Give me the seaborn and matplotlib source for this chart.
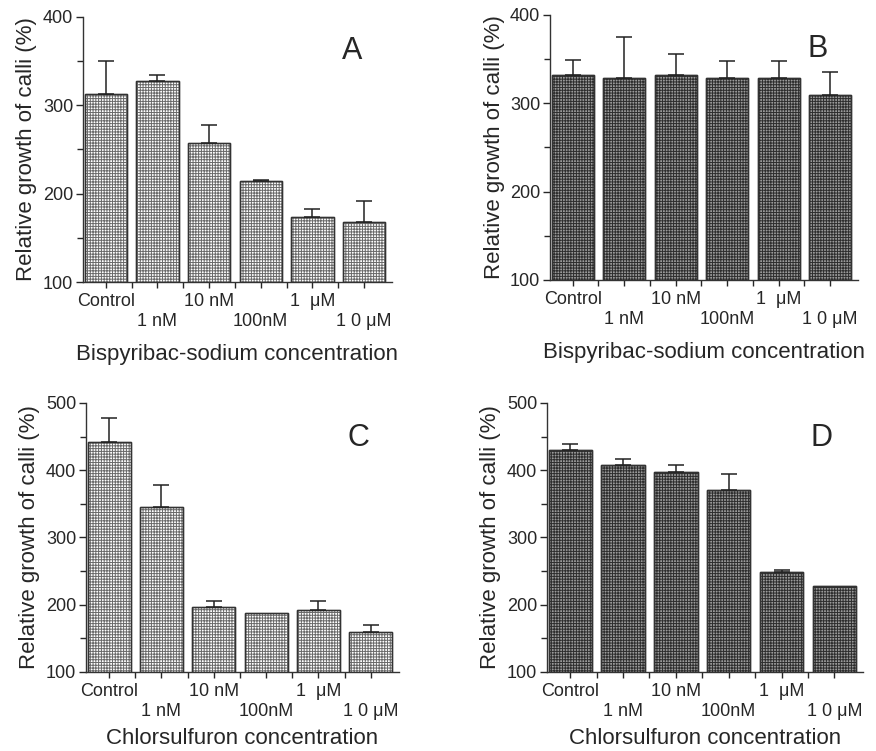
import numpy as np
import pandas as pd
import matplotlib
matplotlib.use('Agg')
import matplotlib.pyplot as plt
import seaborn as sns
from matplotlib.ticker import MultipleLocator, FixedLocator

# concentrations on the x axis
conc = ['Control', '1 nM', '10 nM', '100nM', '1  \u03bcM', '1 0 \u03bcM']

# A: bispyribac-sodium, light bars
bisp_a = [313, 328, 257, 214, 174, 168]
bisp_a_err = [37, 6, 21, 2, 9, 24]
# B: bispyribac-sodium, dark bars
bisp_b = [332, 329, 332, 329, 329, 309]
bisp_b_err = [17, 46, 24, 19, 19, 26]
# C: chlorsulfuron, light bars
chlor_c = [442, 345, 197, 187, 192, 159]
chlor_c_err = [36, 33, 9, 0, 14, 11]
# D: chlorsulfuron, dark bars
chlor_d = [430, 408, 397, 370, 248, 228]
chlor_d_err = [9, 9, 11, 24, 3, 0]

panel_letters = ['A', 'B', 'C', 'D']
xlabels = ['Bispyribac-sodium concentration', 'Bispyribac-sodium concentration',
           'Chlorsulfuron concentration', 'Chlorsulfuron concentration']
ylims = [(100, 400), (100, 400), (100, 500), (100, 500)]

sns.set_style('ticks')
plt.rcParams['font.family'] = ['Liberation Sans', 'DejaVu Sans']
plt.rcParams['hatch.linewidth'] = 0.7


def draw_panel(ax, vals, errs, letter, xlabel, ylim, dark, xpad):
    df = pd.DataFrame({'conc': conc, 'growth': vals})
    if dark:
        face, edge = '#9a9a9a', '#2e2e2e'
    else:
        face, edge = '#ffffff', '#6a6a6a'
    sns.barplot(data=df, x='conc', y='growth', order=conc, ax=ax, width=0.82,
                color=face, edgecolor=edge, linewidth=1.0,
                hatch='+' * 6, errorbar=None, saturation=1)
    # outline the bars in a darker line on top of the hatch
    for p in list(ax.patches):
        ax.add_patch(plt.Rectangle(p.get_xy(), p.get_width(), p.get_height(),
                                   fill=False, edgecolor='#333333', linewidth=1.0))
    x = np.arange(len(conc))
    errs = np.array(errs)
    keep = errs > 0
    ax.errorbar(x[keep], np.array(vals)[keep], yerr=[np.zeros(keep.sum()), errs[keep]],
                fmt='none', ecolor='#222222', elinewidth=1.1, capsize=6, capthick=1.1)

    ax.set_xlim(-0.44, 5.54)
    ax.set_ylim(*ylim)
    ax.yaxis.set_major_locator(MultipleLocator(100))
    ax.yaxis.set_minor_locator(MultipleLocator(50))
    ax.xaxis.set_major_locator(FixedLocator(x))
    ax.xaxis.set_minor_locator(FixedLocator(x[:-1] + 0.5))
    # staggered labels: every second one drops to a second row
    ax.set_xticklabels([c if i % 2 == 0 else '\n' + c for i, c in enumerate(conc)],
                       fontsize=13)
    ax.tick_params(axis='y', which='major', length=5, width=1, labelsize=13, pad=2)
    ax.tick_params(axis='y', which='minor', length=4, width=1)
    ax.tick_params(axis='x', which='both', length=4, width=1, pad=4)
    ax.set_xlabel(xlabel, fontsize=16, labelpad=xpad)
    ax.set_ylabel('Relative growth of calli (%)', fontsize=16, labelpad=4)
    sns.despine(ax=ax)
    for s in ['left', 'bottom']:
        ax.spines[s].set_linewidth(1.0)
        ax.spines[s].set_color('#333333')
    ax.text(0.87, 0.87, letter, transform=ax.transAxes, fontsize=22,
            ha='center', va='center')


fig = plt.figure(figsize=(8.76, 7.51), dpi=100)
boxes = [
    [0.0947, 0.6245, 0.3527, 0.3529],
    [0.6279, 0.6272, 0.3516, 0.3529],
    [0.0982, 0.1052, 0.3573, 0.3582],
    [0.6244, 0.1052, 0.3607, 0.3582],
]
data = [(bisp_a, bisp_a_err), (bisp_b, bisp_b_err),
        (chlor_c, chlor_c_err), (chlor_d, chlor_d_err)]

for i, box in enumerate(boxes):
    ax = fig.add_axes(box)
    vals, errs = data[i]
    draw_panel(ax, vals, errs, panel_letters[i], xlabels[i], ylims[i],
               dark=(i % 2 == 1), xpad=10 if i < 2 else 6)

fig.savefig('out.png', dpi=100)
